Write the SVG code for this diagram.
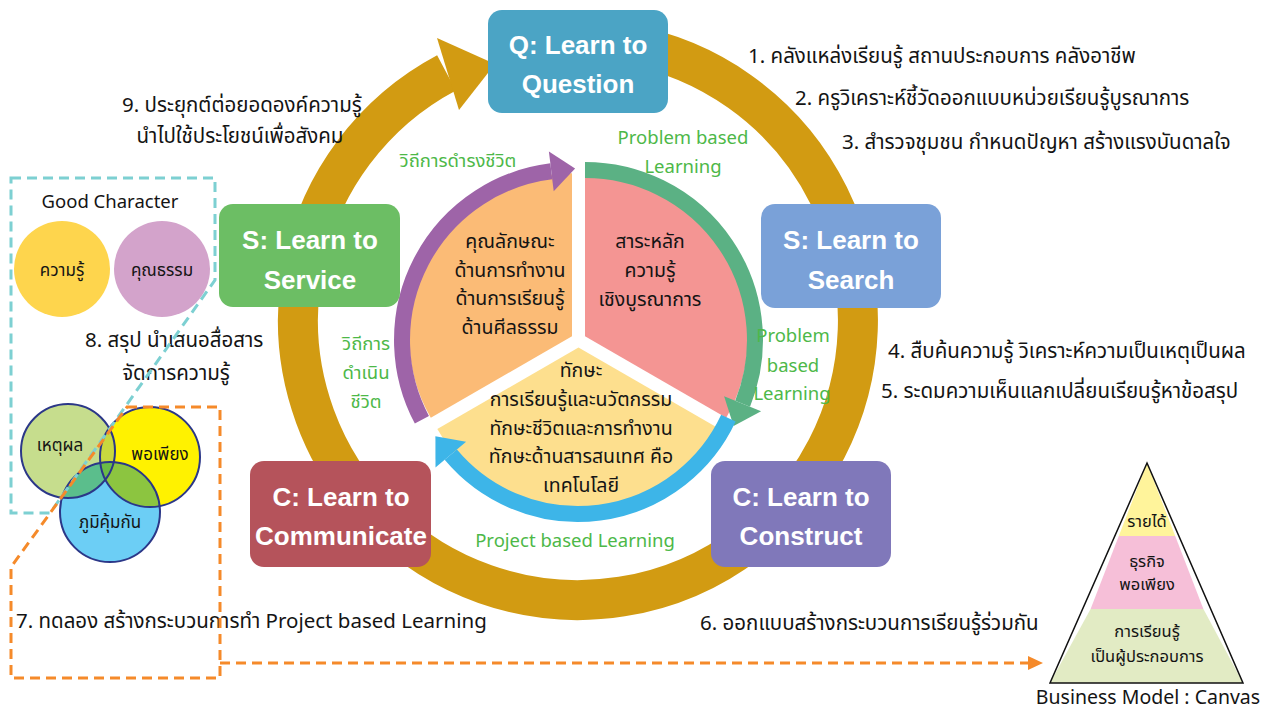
<svg xmlns="http://www.w3.org/2000/svg" width="1270" height="712" viewBox="0 0 1270 712">
<defs>
<style>
.t{font-family:'Noto Sans Thai','Noto Sans','Liberation Sans',sans-serif;font-size:20.5px;fill:#141414}
.m{text-anchor:middle}
.p{font-size:19.5px}
.g{font-family:'Noto Sans Thai','Noto Sans','Liberation Sans',sans-serif;font-size:18.5px;fill:#4DB848;text-anchor:middle}
.bx{font-family:'Liberation Sans',Arial,sans-serif;font-weight:bold;font-size:26px;fill:#fff;text-anchor:middle}
.s{font-size:17px}
.py{font-size:16.5px}
.vc{stroke:#2B3788;stroke-width:2;fill:none}
.dash-c{fill:none;stroke:#7DD0D2;stroke-width:3;stroke-dasharray:10 6}
.dash-o{fill:none;stroke:#F58A2A;stroke-width:3;stroke-dasharray:10 6}
</style>
<clipPath id="cA"><circle cx="68" cy="451" r="47"/></clipPath>
<clipPath id="cB"><circle cx="150" cy="457" r="50"/></clipPath>
</defs>
<rect width="1270" height="712" fill="#fff"/>

<g id="connectors">
  <path d="M 626.6 44.3 A 280 280 0 1 1 446.5 72.8" fill="none" stroke="#D29B12" stroke-width="40"/>
  <polygon points="437,38 459,110 495,64" fill="#D29B12"/>
</g>

<g id="pie">
  <path id="sec-orange" d="M 572 336.25 L 430.8 417.75 A 163 163 0 0 1 572 173.25 Z" fill="#FBBB76"/>
  <path id="sec-pink" d="M 585 336.25 L 585 173.25 A 163 163 0 0 1 726.2 417.75 Z" fill="#F49593"/>
  <path id="sec-yellow" d="M 578.5 347.5 L 719.7 429 A 163 163 0 0 1 437.3 429 Z" fill="#FDDF8E"/>
</g>

<g id="inner-arrows">
  <path d="M 421.9 419.8 A 170 170 0 0 1 551.3 171.3" fill="none" stroke="#9E64A8" stroke-width="16"/>
  <polygon points="548.9,151.4 575.1,168.4 553.7,191.2" fill="#9E64A8"/>
  <path d="M 585 170 A 170 170 0 0 1 742.6 403.7" fill="none" stroke="#5BB184" stroke-width="16"/>
  <polygon points="761.1,411.2 733.6,426 724.1,396.2" fill="#5BB184"/>
  <path d="M 728.4 418.2 A 166 166 0 0 1 450.8 454.7" fill="none" stroke="#3DB5E8" stroke-width="16"/>
  <polygon points="435.5,467.6 435.4,436.3 466.1,441.8" fill="#3DB5E8"/>
</g>

<g id="pie-text" class="t p m">
  <text x="510" y="248">คุณลักษณะ</text>
  <text x="510" y="277">ด้านการทำงาน</text>
  <text x="510" y="305">ด้านการเรียนรู้</text>
  <text x="510" y="334">ด้านศีลธรรม</text>
  <text x="650" y="248">สาระหลัก</text>
  <text x="650" y="277">ความรู้</text>
  <text x="650" y="306">เชิงบูรณาการ</text>
  <text x="581" y="377">ทักษะ</text>
  <text x="581" y="406">การเรียนรู้และนวัตกรรม</text>
  <text x="581" y="435">ทักษะชีวิตและการทำงาน</text>
  <text x="581" y="463">ทักษะด้านสารสนเทศ คือ</text>
  <text x="581" y="492">เทคโนโลยี</text>
</g>

<g id="green-labels">
  <text class="g" x="683" y="144">Problem based</text>
  <text class="g" x="683" y="173">Learning</text>
  <text class="g" x="458" y="167">วิถีการดำรงชีวิต</text>
  <text class="g" x="366" y="350">วิถีการ</text>
  <text class="g" x="366" y="379">ดำเนิน</text>
  <text class="g" x="366" y="408">ชีวิต</text>
  <text class="g" x="793" y="342">Problem</text>
  <text class="g" x="793" y="372">based</text>
  <text class="g" x="792" y="400">Learning</text>
  <text class="g" x="575" y="547">Project based Learning</text>
</g>

<g id="node-q">
  <rect x="488" y="10" width="180" height="103" rx="14" fill="#4BA4C5"/>
  <text class="bx" x="578" y="54">Q: Learn to</text>
  <text class="bx" x="578" y="93">Question</text>
</g>
<g id="node-search">
  <rect x="761" y="204" width="180" height="104" rx="14" fill="#7AA1D8"/>
  <text class="bx" x="851" y="249">S: Learn to</text>
  <text class="bx" x="851" y="289">Search</text>
</g>
<g id="node-construct">
  <rect x="711" y="461" width="180" height="106" rx="14" fill="#8078BA"/>
  <text class="bx" x="801" y="506">C: Learn to</text>
  <text class="bx" x="801" y="545">Construct</text>
</g>
<g id="node-communicate">
  <rect x="250" y="461" width="181" height="106" rx="14" fill="#B5535B"/>
  <text class="bx" x="341" y="506">C: Learn to</text>
  <text class="bx" x="341" y="545">Communicate</text>
</g>
<g id="node-service">
  <rect x="219" y="204" width="181" height="103" rx="14" fill="#6CBE64"/>
  <text class="bx" x="310" y="249">S: Learn to</text>
  <text class="bx" x="310" y="289">Service</text>
</g>

<g id="steps" class="t">
  <text x="748" y="63">1. คลังแหล่งเรียนรู้ สถานประกอบการ คลังอาชีพ</text>
  <text x="795" y="105">2. ครูวิเคราะห์ชี้วัดออกแบบหน่วยเรียนรู้บูรณาการ</text>
  <text x="842" y="149">3. สำรวจชุมชน กำหนดปัญหา สร้างแรงบันดาลใจ</text>
  <text x="888" y="358">4. สืบค้นความรู้ วิเคราะห์ความเป็นเหตุเป็นผล</text>
  <text x="881" y="398">5. ระดมความเห็นแลกเปลี่ยนเรียนรู้หาข้อสรุป</text>
  <text x="700" y="630">6. ออกแบบสร้างกระบวนการเรียนรู้ร่วมกัน</text>
  <text x="16" y="628">7. ทดลอง สร้างกระบวนการทำ Project based Learning</text>
  <text x="85" y="347">8. สรุป นำเสนอสื่อสาร</text>
  <text class="m" x="176" y="380">จัดการความรู้</text>
  <text x="122" y="112">9. ประยุกต์ต่อยอดองค์ความรู้</text>
  <text class="m" x="240" y="143">นำไปใช้ประโยชน์เพื่อสังคม</text>
</g>

<g id="good-character">
  <text class="t m" x="110" y="208" style="font-size:18.5px">Good Character</text>
  <circle cx="62" cy="269" r="48" fill="#FED54D"/>
  <circle cx="162" cy="269" r="48" fill="#D3A3CB"/>
  <text class="t m s" x="62" y="276">ความรู้</text>
  <text class="t m s" x="162" y="276">คุณธรรม</text>
</g>

<g id="venn">
  <circle cx="68" cy="451" r="47" fill="#C6DD8D"/>
  <circle cx="150" cy="457" r="50" fill="#FFF200"/>
  <circle cx="110" cy="512" r="50" fill="#6CCEF5"/>
  <circle cx="150" cy="457" r="50" fill="#C8D83F" clip-path="url(#cA)"/>
  <circle cx="110" cy="512" r="50" fill="#5BBE8C" clip-path="url(#cA)"/>
  <circle cx="110" cy="512" r="50" fill="#8CC540" clip-path="url(#cB)"/>
  <g clip-path="url(#cA)"><circle cx="110" cy="512" r="50" fill="#6BBB45" clip-path="url(#cB)"/></g>
  <circle class="vc" cx="68" cy="451" r="47"/>
  <circle class="vc" cx="150" cy="457" r="50"/>
  <circle class="vc" cx="110" cy="512" r="50"/>
  <text class="t m s" x="60" y="451">เหตุผล</text>
  <text class="t m s" x="160" y="460">พอเพียง</text>
  <text class="t m s" x="110" y="528">ภูมิคุ้มกัน</text>
</g>

<g id="dashed-frames">
  <path class="dash-c" d="M 11 178 H 215 V 280 L 50 513 H 11 Z"/>
  <path class="dash-o" d="M 127 407 H 220 V 678 H 11 V 567 Z"/>
  <path class="dash-o" d="M 220 663 H 1030"/>
  <polygon points="1028,656 1043,663 1028,670" fill="#F58A2A"/>
</g>

<g id="pyramid">
  <polygon points="1147,463 1175.2,536 1118.8,536" fill="#FFF49B"/>
  <polygon points="1118.8,536 1175.2,536 1203.4,609 1090.6,609" fill="#F6BFD8"/>
  <polygon points="1090.6,609 1203.4,609 1243,683 1050,683" fill="#E2EBC4"/>
  <polygon points="1147,463 1243,683 1050,683" fill="none" stroke="#111" stroke-width="1.5"/>
  <text class="t m py" x="1147" y="527">รายได้</text>
  <text class="t m py" x="1147" y="567">ธุรกิจ</text>
  <text class="t m py" x="1147" y="590">พอเพียง</text>
  <text class="t m py" x="1147" y="637">การเรียนรู้</text>
  <text class="t m py" x="1147" y="662">เป็นผู้ประกอบการ</text>
  <text class="t m" x="1148" y="704" style="font-size:19.5px">Business Model : Canvas</text>
</g>
</svg>
